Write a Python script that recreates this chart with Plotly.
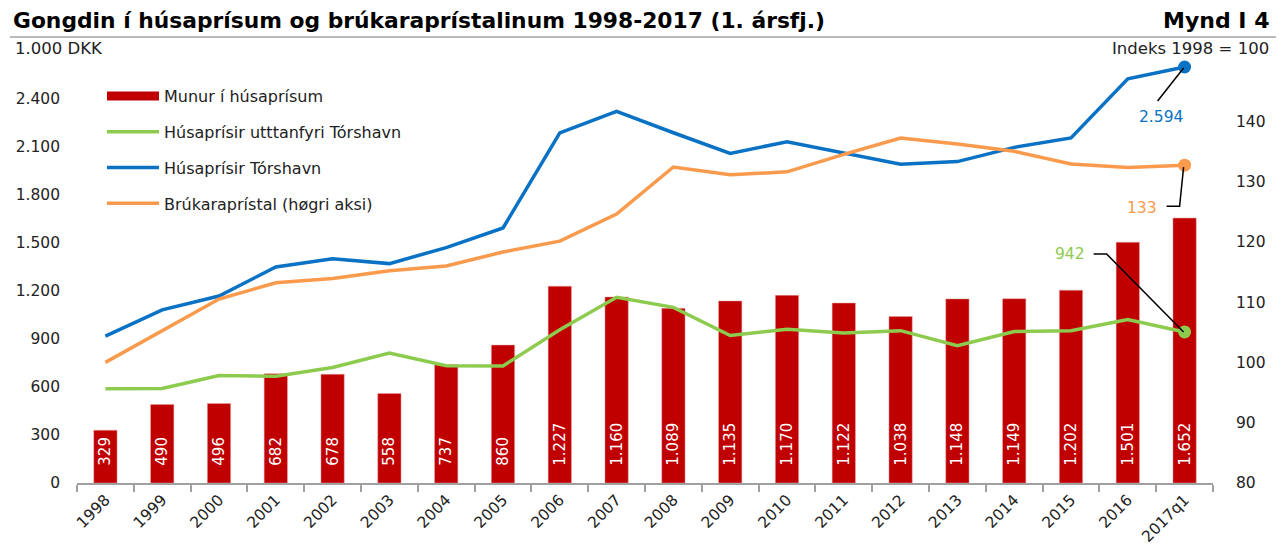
import plotly.graph_objects as go

categories = ["1998", "1999", "2000", "2001", "2002", "2003", "2004", "2005", "2006", "2007",
              "2008", "2009", "2010", "2011", "2012", "2013", "2014", "2015", "2016", "2017q1"]
munur = [329, 490, 496, 682, 678, 558, 737, 860, 1227, 1160,
         1089, 1135, 1170, 1122, 1038, 1148, 1149, 1202, 1501, 1652]
uttanfyri = [587, 590, 670, 665, 720, 810, 731, 730, 956, 1158,
             1095, 920, 958, 936, 950, 856, 944, 950, 1019, 942]
torshavn = [916, 1080, 1166, 1347, 1398, 1368, 1468, 1590, 2183, 2318,
            2184, 2055, 2128, 2058, 1988, 2004, 2093, 2152, 2520, 2594]
brukara = [100, 105.3, 110.5, 113.2, 113.9, 115.2, 116.0, 118.3, 120.1, 124.6,
           132.4, 131.1, 131.6, 134.5, 137.2, 136.2, 135.0, 132.9, 132.3, 132.7]
left_ticks = [0, 300, 600, 900, 1200, 1500, 1800, 2100, 2400]
right_ticks = [80, 90, 100, 110, 120, 130, 140]

RED = "#C00000"
GREEN = "#8DCB4E"
BLUE = "#0A72C4"
ORANGE = "#FA9A4C"
FONT = "DejaVu Sans, Verdana, sans-serif"

fig = go.Figure()

fig.add_trace(go.Bar(
    x=categories, y=munur, marker=dict(color=RED, line=dict(color="#E8A0A0", width=0.5)),
    width=0.41, showlegend=False,
    texttemplate="\u00a0\u00a0\u00a0%{y:,.0f}", textposition="inside", insidetextanchor="start",
    textangle=-90, textfont=dict(color="white", size=15, family=FONT), constraintext="none",
    hoverinfo="skip"))

# legend entries (line-style symbols)
fig.add_trace(go.Scatter(x=[None], y=[None], mode="lines", name="Munur í húsaprísum",
                         line=dict(color=RED, width=9), legendgroup="a", legendrank=1))
fig.add_trace(go.Scatter(x=categories, y=uttanfyri, mode="lines", name="Húsaprísir utttanfyri Tórshavn",
                         line=dict(color=GREEN, width=3.5), legendgroup="b", legendrank=2))
fig.add_trace(go.Scatter(x=categories, y=torshavn, mode="lines", name="Húsaprísir Tórshavn",
                         line=dict(color=BLUE, width=3.5), legendgroup="c", legendrank=3))
fig.add_trace(go.Scatter(x=categories, y=brukara, mode="lines", name="Brúkaraprístal (høgri aksi)",
                         line=dict(color=ORANGE, width=3.5), yaxis="y2", legendgroup="d", legendrank=4))

# end markers
fig.add_trace(go.Scatter(x=[categories[-1]], y=[uttanfyri[-1]], mode="markers", showlegend=False,
                         marker=dict(color=GREEN, size=13)))
fig.add_trace(go.Scatter(x=[categories[-1]], y=[torshavn[-1]], mode="markers", showlegend=False,
                         marker=dict(color=BLUE, size=13)))
fig.add_trace(go.Scatter(x=[categories[-1]], y=[brukara[-1]], mode="markers", showlegend=False,
                         marker=dict(color=ORANGE, size=13), yaxis="y2"))

# leader lines anchored at the end points (pixel offsets, y positive = up)
line_style = dict(color="black", width=1.5)
fig.add_shape(type="path", xref="x", yref="y", xsizemode="pixel", ysizemode="pixel",
              xanchor=categories[-1], yanchor=torshavn[-1],
              path="M-1,-1 L-27,-34", line=line_style)
fig.add_shape(type="path", xref="x", yref="y2", xsizemode="pixel", ysizemode="pixel",
              xanchor=categories[-1], yanchor=brukara[-1],
              path="M-1,-2 L-5,-41 L-18,-41", line=line_style)
fig.add_shape(type="path", xref="x", yref="y", xsizemode="pixel", ysizemode="pixel",
              xanchor=categories[-1], yanchor=uttanfyri[-1],
              path="M-1,0 L-78,78 L-91,78", line=line_style)

fig.add_annotation(x=categories[-1], y=torshavn[-1], xref="x", yref="y", text="2.594",
                   showarrow=False, xshift=-24, yshift=-50, font=dict(color=BLUE, size=15.5, family=FONT))
fig.add_annotation(x=categories[-1], y=brukara[-1], xref="x", yref="y2", text="133",
                   showarrow=False, xshift=-43, yshift=-43, font=dict(color=ORANGE, size=15.5, family=FONT))
fig.add_annotation(x=categories[-1], y=uttanfyri[-1], xref="x", yref="y", text="942",
                   showarrow=False, xshift=-115, yshift=78, font=dict(color=GREEN, size=15.5, family=FONT))

# titles and unit labels (plot area is 1136 x 433 px)
def px(xp):
    return (xp - 77) / 1136

def py(yp):
    return (483 - yp) / 433

fig.add_annotation(xref="paper", yref="paper", x=px(11), y=py(20), xanchor="left", yanchor="middle",
                   text="<b>Gongdin í húsaprísum og brúkaraprístalinum 1998-2017 (1. ársfj.)</b>",
                   showarrow=False, font=dict(size=21.8, color="black", family=FONT))
fig.add_annotation(xref="paper", yref="paper", x=px(1271), y=py(20), xanchor="right", yanchor="middle",
                   text="<b>Mynd I 4</b>", showarrow=False, font=dict(size=22, color="black", family=FONT))
fig.add_annotation(xref="paper", yref="paper", x=px(13), y=py(48), xanchor="left", yanchor="middle",
                   text="1.000 DKK", showarrow=False, font=dict(size=16.5, color="#222", family=FONT))
fig.add_annotation(xref="paper", yref="paper", x=px(1271), y=py(49), xanchor="right", yanchor="middle",
                   text="Indeks 1998 = 100", showarrow=False, font=dict(size=16.5, color="#222", family=FONT))
fig.add_shape(type="line", xref="paper", yref="paper", x0=px(10), x1=px(1276), y0=py(37), y1=py(37),
              line=dict(color="#777", width=1.2))

# the page body adds an 8 px margin: figure starts at (8, 8)
fig.update_layout(
    width=1277, height=541,
    margin=dict(l=69, r=72, t=42, b=66, autoexpand=False),
    paper_bgcolor="white", plot_bgcolor="white",
    separators=",.",
    font=dict(family=FONT, size=15, color="#222"),
    showlegend=True,
    legend=dict(x=px(102), y=py(79), xanchor="left", yanchor="top", bgcolor="rgba(0,0,0,0)",
                font=dict(size=16, color="#222", family=FONT), tracegroupgap=12,
                traceorder="grouped", itemwidth=52),
    xaxis=dict(type="category", categoryorder="array", categoryarray=categories,
               showline=True, linecolor="#A0A0A0", linewidth=1.5,
               ticks="outside", tickson="boundaries", ticklen=7, tickcolor="#A0A0A0", tickwidth=1.5,
               tickangle=-45, tickfont=dict(size=15.5, color="#222"), showgrid=False, zeroline=False,
               range=[-0.5, len(categories) - 0.5]),
    yaxis=dict(range=[0, 2700], tickvals=left_ticks, tickformat=",.0f", showgrid=False, zeroline=False,
               showline=False, ticks="", tickfont=dict(size=15.5, color="#222"), ticklabelstandoff=16),
    yaxis2=dict(range=[80, 151.8], tickvals=right_ticks, overlaying="y", side="right",
                showgrid=False, zeroline=False, showline=False, ticks="",
                tickfont=dict(size=15.5, color="#222"), ticklabelstandoff=22),
)

fig.write_html("out.html")
